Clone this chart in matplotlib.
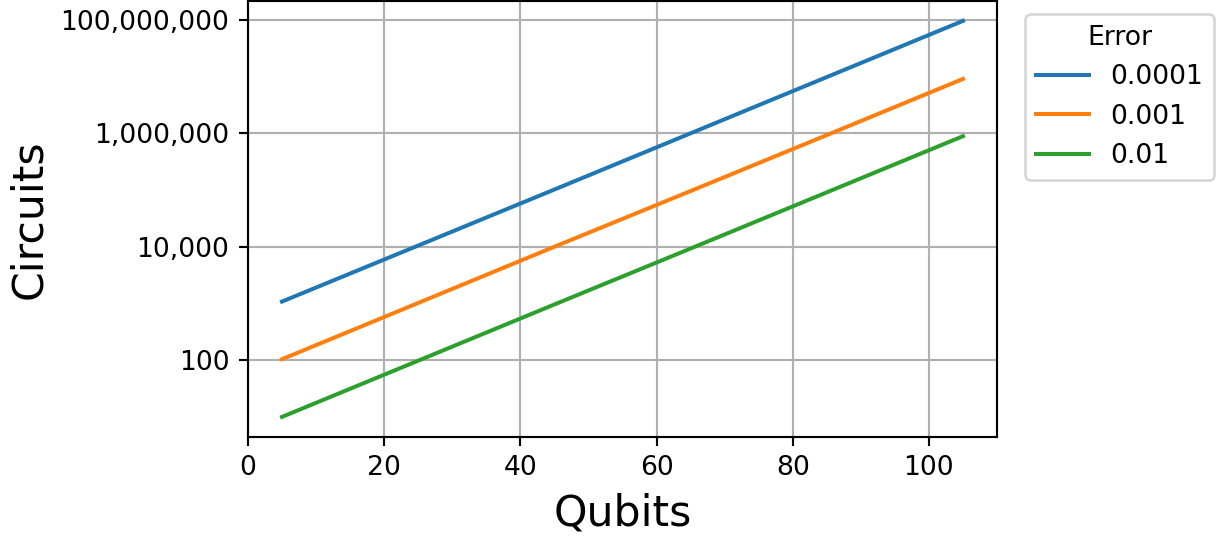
import matplotlib
matplotlib.use("Agg")
import matplotlib.pyplot as plt
from matplotlib.ticker import FuncFormatter, FixedLocator, NullLocator

# === DATA ===
qubits = [5, 25, 45, 65, 85, 105]
circuits_1e4 = [1080, 10500, 102000, 1000000, 9800000, 96000000]
circuits_1e3 = [104, 1020, 10000, 96000, 930000, 9100000]
circuits_1e2 = [10, 98, 960, 9300, 91000, 890000]
error_labels = ["0.0001", "0.001", "0.01"]
y_ticks = [1e2, 1e4, 1e6, 1e8]

DPI = 192
fig = plt.figure(figsize=(1225 / DPI, 539 / DPI), dpi=DPI)
ax = fig.add_axes([0.2024, 0.1898, 0.8139 - 0.2024, 0.998 - 0.1898])

for series, label in zip([circuits_1e4, circuits_1e3, circuits_1e2], error_labels):
    ax.plot(qubits, series, label=label)

ax.set_yscale("log")
ax.yaxis.set_major_locator(FixedLocator(y_ticks))
ax.yaxis.set_minor_locator(NullLocator())
ax.yaxis.set_major_formatter(FuncFormatter(lambda v, pos: f"{v:,.0f}"))
ax.set_xlim(0, 110)
ax.grid(True)

ax.set_xlabel("Qubits", fontsize=16)
ax.set_ylabel("Circuits", fontsize=16)
ax.legend(title="Error", loc="upper left", bbox_to_anchor=(1.02, 1))

fig.savefig("out.png", dpi=DPI)
